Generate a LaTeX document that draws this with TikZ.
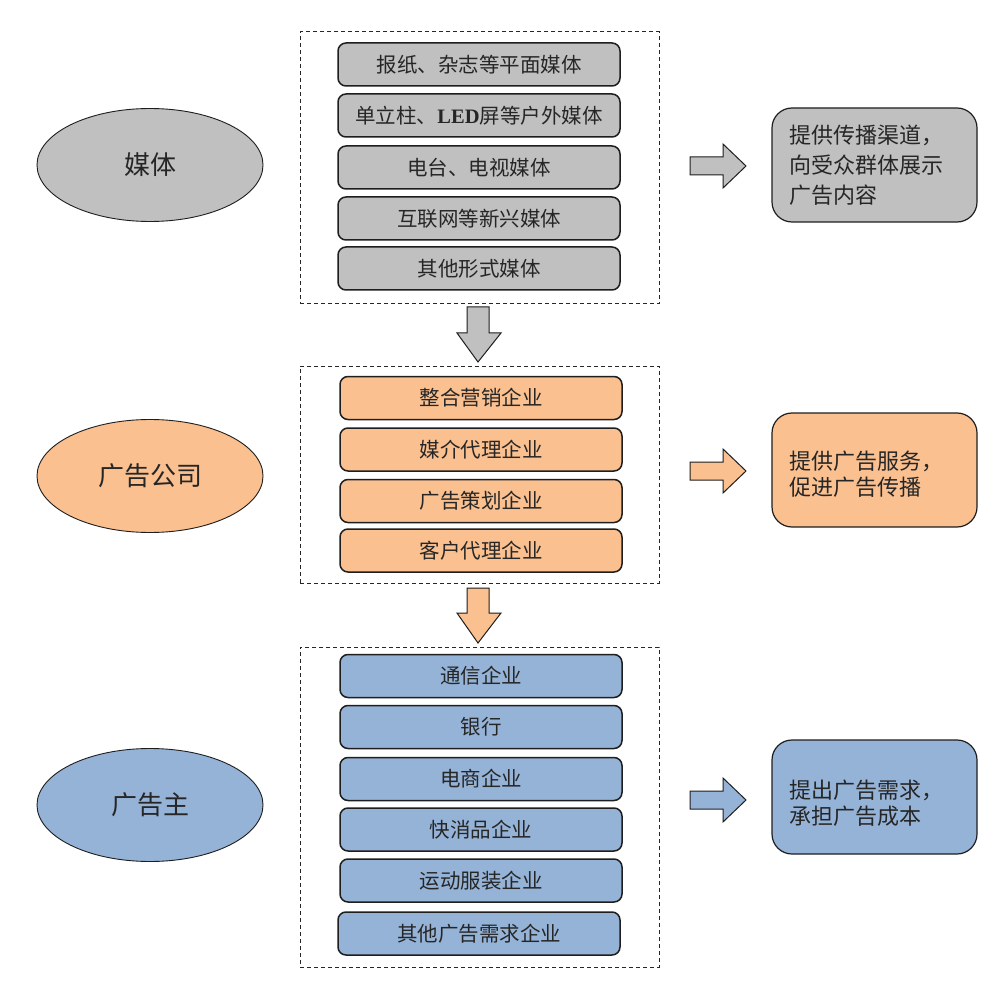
\documentclass[tikz,border=0pt]{standalone}
\usepackage{fontspec}
\setmainfont{Noto Sans CJK SC}
\newfontfamily\latinserif{Liberation Serif}
\usetikzlibrary{shapes.geometric}
\definecolor{mgray}{RGB}{192,192,192}
\definecolor{morange}{RGB}{250,192,144}
\definecolor{mblue}{RGB}{149,179,215}
\definecolor{txt}{RGB}{38,38,38}
\definecolor{edge}{RGB}{30,30,30}
\begin{document}
\begin{tikzpicture}[x=1pt,y=-1pt,
  item/.style={draw=edge, line width=1.5pt, rounded corners=8pt, minimum width=282pt, minimum height=43pt, inner sep=0pt, font=\fontsize{20.5}{24}\selectfont, text=txt},
  group/.style={draw=black!85, dash pattern=on 4pt off 3pt, line width=1pt, minimum width=359pt, inner sep=0pt},
  role/.style={ellipse, draw=edge, line width=0.9pt, minimum width=226pt, minimum height=113pt, inner sep=0pt, font=\fontsize{26}{30}\selectfont, text=txt},
  desc/.style={draw=edge, line width=1.2pt, rounded corners=20pt, minimum height=114pt, text width=171pt, inner xsep=17pt, inner ysep=0pt, align=left, font=\fontsize{22}{30}\selectfont, text=txt},
  barrow/.style={draw=edge, line width=1pt, line join=miter}]
\useasboundingbox[fill=white] (0,0) rectangle (1004,992);

% groups
\node[group, minimum height=272pt] (g1) at (479.5,168) {};
\node[group, minimum height=217pt] (g2) at (479.5,474.5) {};
\node[group, minimum height=320pt] (g3) at (479.5,807) {};

% roles
\node[role, fill=mgray] (r1) at (150,165) {媒体};
\node[role, fill=morange] (r2) at (150,476) {广告公司};
\node[role, fill=mblue] (r3) at (150,805) {广告主};

% media items
\node[item, fill=mgray] (m1) at (479,64.5) {报纸、杂志等平面媒体};
\node[item, fill=mgray] (m2) at (479,115.5) {单立柱、{\latinserif\bfseries LED}屏等户外媒体};
\node[item, fill=mgray] (m3) at (479,167.5) {电台、电视媒体};
\node[item, fill=mgray] (m4) at (479,218.5) {互联网等新兴媒体};
\node[item, fill=mgray] (m5) at (479,268.5) {其他形式媒体};

% agency items
\node[item, fill=morange] (a1) at (481,398) {整合营销企业};
\node[item, fill=morange] (a2) at (481,449.5) {媒介代理企业};
\node[item, fill=morange] (a3) at (481,501) {广告策划企业};
\node[item, fill=morange] (a4) at (481,550.5) {客户代理企业};

% advertiser items
\node[item, fill=mblue] (b1) at (481,676) {通信企业};
\node[item, fill=mblue] (b2) at (481,727) {银行};
\node[item, fill=mblue] (b3) at (481,779) {电商企业};
\node[item, fill=mblue] (b4) at (481,829.5) {快消品企业};
\node[item, fill=mblue] (b5) at (481,880.5) {运动服装企业};
\node[item, fill=mblue] (b6) at (479,933.5) {其他广告需求企业};

% descriptions
\node[desc, fill=mgray] (d1) at (874.5,165) {提供传播渠道，\\向受众群体展示\\广告内容};
\node[desc, fill=morange, font=\fontsize{22}{26}\selectfont] (d2) at (874.5,470) {\rule{0pt}{27pt}提供广告服务，\\促进广告传播};
\node[desc, fill=mblue, font=\fontsize{22}{26}\selectfont] (d3) at (874.5,797) {\rule{0pt}{31pt}提出广告需求，\\承担广告成本};

% down block arrows
\draw[barrow, fill=mgray] (467,307) -- (489,307) -- (489,333) -- (501,333) -- (478,362) -- (457,333) -- (467,333) -- cycle;
\draw[barrow, fill=morange] (467,588) -- (489,588) -- (489,613) -- (501,613) -- (478,643) -- (457,613) -- (467,613) -- cycle;

% right block arrows
\foreach \yy/\cc in {166/mgray, 471/morange, 800/mblue}{
  \draw[barrow, fill=\cc] (690,\yy-9) -- (723,\yy-9) -- (723,\yy-22) -- (746,\yy) -- (723,\yy+22) -- (723,\yy+9) -- (690,\yy+9) -- cycle;
}
\end{tikzpicture}
\end{document}
